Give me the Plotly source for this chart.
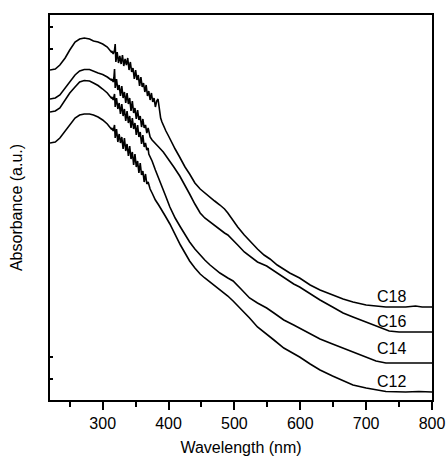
import plotly.graph_objects as go

# Wavelength (nm) and absorbance (a.u., arbitrary offset units)
wl_c18 = [220, 228, 235, 243, 250, 258, 265, 272, 280, 286, 293, 300, 307, 313,
          314, 316, 318, 319, 320, 322, 324, 326, 328, 330, 332, 334, 336, 338, 340, 342, 344, 346,
          348, 350, 352, 354, 356, 358, 360, 362, 364, 366, 368, 370, 372, 374, 376, 378, 380, 382,
          384, 386, 388, 390, 393, 396, 400, 405, 410, 416, 420, 425,
          432, 440, 448, 455, 463, 470, 478, 485, 490, 498, 505, 515, 523, 535, 545, 554, 565, 575, 584, 599,
          615, 630, 649, 665, 680, 700, 715, 730, 760, 775, 785, 800]
abs_c18 = [330, 331, 335, 342, 350, 358, 361, 362, 361, 359, 358, 356, 353, 348,
           349, 346, 350, 356, 338, 348, 337, 344, 336, 345, 334, 341, 335, 342, 330, 338, 328, 332,
           321, 330, 320, 325, 314, 323, 313, 317, 308, 315, 304, 309, 300, 307, 298, 302, 293, 299,
           301, 289, 282, 278, 273, 269, 264, 257, 251, 244, 239, 233,
           226, 217, 211, 207, 203, 199, 195, 191, 187, 179, 173, 165, 159, 151, 145, 141, 135, 131, 127, 122,
           115, 110, 105, 101, 98, 95, 94, 93, 93, 94, 93, 93]

wl_c16 = [220, 228, 235, 243, 250, 258, 265, 272, 280, 286, 293, 300, 307, 313,
          314, 316, 317, 318, 319, 321, 323, 325, 327, 329, 331, 333, 335, 337, 339, 341, 343, 345,
          347, 349, 351, 353, 355, 357, 359, 361, 363, 365, 367, 369, 372, 375,
          380, 385, 392, 400, 408, 417, 425, 432, 440, 448, 455, 463, 470,
          478, 485, 490, 498, 505, 515, 525, 535, 549, 560, 575, 590, 599, 615, 630, 649, 665, 680,
          700, 715, 725, 735, 750, 800]
abs_c16 = [301, 302, 305, 312, 318, 325, 329, 330.5, 330.5, 328.5, 327, 325.5, 323, 320,
           321, 318, 322, 331, 312, 321, 310, 315, 304, 314, 302, 308, 297, 307, 296, 302, 289, 299,
           287, 292, 281, 290, 280, 284, 273, 281, 272, 275, 267, 272, 263, 260,
           256, 253, 248, 241, 233, 224, 215, 206, 196, 187, 182, 178, 174,
           170, 167, 165, 160, 155, 148, 143, 138, 134, 129, 122, 116, 113, 106, 100, 93, 87, 83,
           78, 74, 71, 69, 68, 68]

wl_c14 = [220, 228, 235, 243, 250, 258, 265, 272, 280, 286, 293, 300, 307, 313,
          314, 316, 318, 319, 321, 323, 325, 327, 329, 331, 333, 335, 337, 339, 341, 343, 345, 347,
          349, 351, 353, 355, 357, 359, 361, 363, 365, 367, 369, 370,
          375, 380, 385, 390, 395, 402, 410, 418, 425, 432, 440, 448, 455, 463, 470,
          478, 490, 498, 510, 523, 535, 549, 560, 575, 590, 599, 615, 630, 649, 665, 680, 700, 715,
          730, 750, 800]
abs_c14 = [288, 289, 292, 300, 307, 313, 318, 319.5, 319, 317, 314.5, 311, 307, 302,
           303, 300, 306, 293, 302, 291, 297, 286, 296, 284, 291, 279, 289, 277, 284, 272, 282, 271,
           277, 265, 275, 263, 268, 256, 265, 253, 257, 250, 252, 246,
           239, 230, 221, 213, 205, 193, 182, 173, 165, 158, 151, 145, 140, 135, 131,
           127, 122, 119, 111, 102, 97, 92, 87, 80, 75, 72, 66, 61, 56, 52, 48, 43, 39,
           37, 37, 37]

wl_c12 = [220, 228, 235, 243, 250, 258, 265, 272, 280, 286, 293, 300, 307, 313,
          314, 316, 318, 319, 321, 323, 325, 327, 329, 331, 333, 335, 337, 339, 341, 343, 345, 347,
          349, 351, 353, 355, 357, 359, 361, 363, 365, 367, 369, 372, 375,
          380, 385, 389, 395, 402, 410, 418, 425, 432, 440, 448, 455, 463,
          470, 478, 490, 498, 510, 523, 535, 549, 560, 575, 599, 615, 630, 649, 665, 680, 700, 715,
          730, 760, 780, 800]
abs_c12 = [257, 258, 262, 269, 275, 282, 285, 286, 286, 285, 283, 280, 276, 271,
           272, 269, 275, 262, 271, 258, 266, 257, 263, 251, 262, 249, 256, 244, 254, 241, 248, 235,
           246, 233, 239, 227, 237, 225, 229, 218, 226, 216, 218, 211, 207,
           200, 195, 191, 184, 176, 165, 155, 147, 139, 132, 126, 122, 118,
           114, 110, 104, 99, 91, 82, 73, 66, 60, 52, 43, 36, 30, 24, 19, 15, 12, 10,
           8.5, 8, 8.5, 8]

series_names = ["C18", "C16", "C14", "C12"]
label_wl = [739, 739, 739, 739]
label_abs = [104, 79, 52, 19]

x_tickvals = [300, 400, 500, 600, 700, 800]
x_minor_tickvals = [250, 350, 450, 550, 650, 750]
y_tickvals = [21, 43, 351, 373]

fig = go.Figure()
for name, xs, ys in zip(series_names,
                        [wl_c18, wl_c16, wl_c14, wl_c12],
                        [abs_c18, abs_c16, abs_c14, abs_c12]):
    fig.add_trace(go.Scatter(x=xs, y=ys, mode="lines", name=name,
                             line=dict(color="black", width=1.6), showlegend=False))

for name, lx, ly in zip(series_names, label_wl, label_abs):
    fig.add_annotation(x=lx, y=ly, text=name, showarrow=False,
                       font=dict(family="Liberation Sans, Arial", size=16, color="black"))

font = dict(family="Liberation Sans, Arial", size=16, color="black")
fig.update_layout(
    width=446, height=457,
    margin=dict(l=50, r=14, t=15, b=57),
    paper_bgcolor="white", plot_bgcolor="white",
    font=font,
    xaxis=dict(range=[220, 800], tickvals=x_tickvals, ticks="outside", ticklen=8, tickwidth=1.5,
               tickcolor="black", showline=True, linecolor="black", linewidth=1.5, mirror=True,
               showgrid=False, zeroline=False, tickfont=dict(size=16), automargin=False,
               minor=dict(tickvals=x_minor_tickvals, ticks="outside", ticklen=5,
                          tickwidth=1.5, tickcolor="black", showgrid=False),
               title=dict(text="Wavelength (nm)", font=dict(size=16), standoff=11)),
    yaxis=dict(range=[0, 385], tickvals=y_tickvals, ticks="inside", ticklen=3, tickwidth=1.5,
               tickcolor="black", showticklabels=False, showline=True, linecolor="black",
               linewidth=1.5, mirror=True, showgrid=False, zeroline=False, automargin=False,
               title=dict(text="Absorbance (a.u.)", font=dict(size=16), standoff=22)),
)

fig.write_html("out.html", config={"displayModeBar": False},
               post_script="document.body.style.margin='0';document.body.style.overflow='hidden';")
